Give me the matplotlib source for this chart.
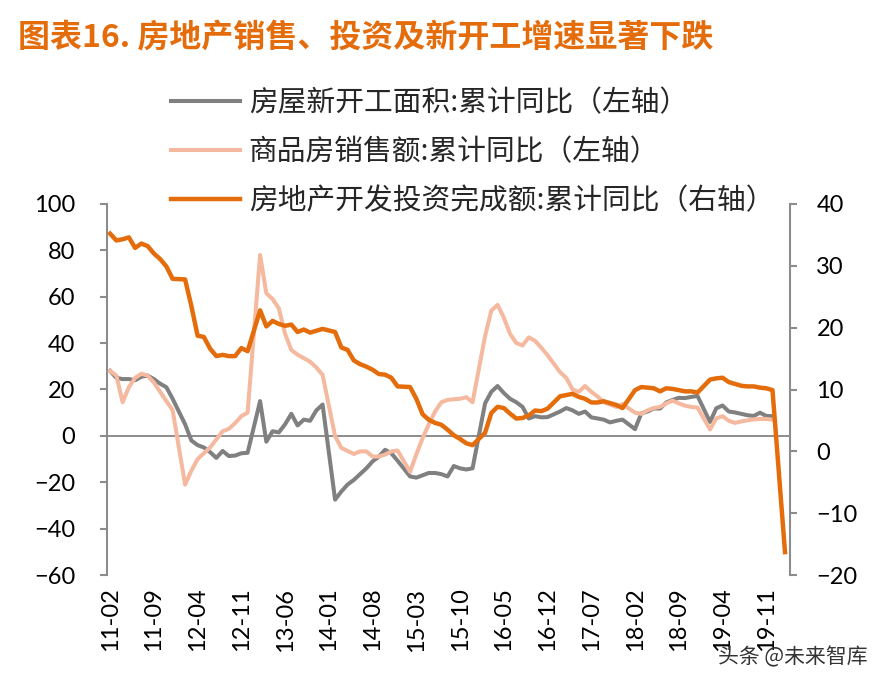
import numpy as np
import pandas as pd
import matplotlib
matplotlib.use("Agg")
import matplotlib.pyplot as plt

plt.rcParams["font.family"] = ["Lato", "Noto Sans CJK SC", "DejaVu Sans"]

# monthly axis, January is folded into the Jan-Feb print so it has no value
MONTHS = pd.period_range("2011-02", "2020-02", freq="M")
OBS = [m for m in MONTHS if m.month != 1]
TICK_MONTHS = MONTHS[::7]

LABELS = [
    "房屋新开工面积:累计同比（左轴）",
    "商品房销售额:累计同比（左轴）",
    "房地产开发投资完成额:累计同比（右轴）",
]

# 房屋新开工面积 累计同比, 2011-02 .. 2019-12 (left axis)
STARTS = [
    28, 25, 24.5, 24.5, 24, 25.5, 26, 24.5, 22.5, 21, 16,
    5, -2, -4, -5, -7, -9.5, -6.5, -8.7, -8.5, -7.5, -7.3,
    15, -2.5, 2, 1.5, 5, 9.5, 4.5, 7, 6.5, 11, 13.5,
    -27.5, -24, -21, -19, -16.5, -14, -11, -9, -6, -7.5, -10.7,
    -17.5, -18, -17, -16, -16, -16.5, -17.5, -13, -14, -14.5, -14,
    14, 19, 21.5, 18.5, 16, 14.5, 12.5, 7.5, 8.5, 8, 8.1,
    10.5, 12, 11, 9.5, 10.5, 8, 7.5, 7, 5.8, 6.5, 7,
    2.9, 9.7, 10.5, 11.8, 11.8, 14.4, 15.5, 16.4, 16.3, 16.8, 17.2,
    6, 11.9, 13.1, 10.5, 10.1, 9.5, 8.9, 8.6, 10, 8.6, 8.5,
]

# 商品房销售额 累计同比, 2011-02 .. 2019-12 (left axis)
SALES = [
    28, 26, 14.5, 21, 25, 26.8, 26, 23, 19, 15, 11.1,
    -21, -15, -10, -7.5, -5, -1.5, 2, 3, 5.5, 8.5, 10,
    78, 61.5, 59, 55, 44, 37, 35, 33.5, 32, 29.5, 26.3,
    -0.1, -5.2, -6.5, -7.8, -6.7, -6.7, -8.9, -8.9, -8.1, -6.7, -6.3,
    -15.5, -8, -1, 5, 10.5, 14.5, 15.5, 15.8, 16, 16.7, 14.5,
    43, 54, 56.5, 51, 44, 40, 39, 42.5, 41, 38, 34.8,
    27.5, 25, 20, 19, 21.5, 19, 17, 14.5, 13.5, 12.5, 13.7,
    10, 9.5, 11, 12, 12.5, 14, 15.2, 14, 13, 12.5, 12.2,
    2.8, 7.5, 8.5, 6.5, 5.6, 6.2, 6.7, 7.1, 7.3, 7.3, 7.0,
]

# 房地产开发投资完成额 累计同比, 2011-02 .. 2020-02 (right axis)
INVEST = [
    35.2, 34.1, 34.3, 34.6, 32.9, 33.6, 33.2, 32.0, 31.1, 29.9, 27.9,
    27.8, 23.5, 18.7, 18.5, 16.6, 15.4, 15.6, 15.4, 15.4, 16.7, 16.2,
    22.8, 20.2, 21.1, 20.6, 20.3, 20.5, 19.3, 19.7, 19.2, 19.5, 19.8,
    19.3, 16.8, 16.4, 14.7, 14.1, 13.7, 13.2, 12.5, 12.4, 11.9, 10.5,
    10.4, 8.5, 6.0, 5.1, 4.6, 4.3, 3.5, 2.6, 2.0, 1.3, 1.0,
    3.0, 6.2, 7.2, 7.0, 6.1, 5.3, 5.4, 5.8, 6.6, 6.5, 6.9,
    8.9, 9.1, 9.3, 8.8, 8.5, 7.9, 7.9, 8.1, 7.8, 7.5, 7.0,
    9.9, 10.4, 10.3, 10.2, 9.7, 10.2, 10.1, 9.9, 9.7, 9.7, 9.5,
    11.6, 11.8, 11.9, 11.2, 10.9, 10.6, 10.5, 10.5, 10.3, 10.2, 9.9,
    -16.3,
]

GREY = "#808080"
PINK = "#F4B99E"
ORANGE = "#E46C0A"
AXIS_GREY = "#8C8C8C"


def main():
    pos = {m: i for i, m in enumerate(MONTHS)}
    x_obs = np.array([pos[m] for m in OBS])

    fig = plt.figure(figsize=(8.86, 6.86), dpi=100)
    ax = fig.add_axes([107 / 886, 1 - 575 / 686, 683 / 886, 371 / 686])
    ax2 = ax.twinx()

    ax.axhline(0, color=AXIS_GREY, lw=1.4, zorder=1)
    l1, = ax.plot(x_obs[:len(STARTS)], STARTS, color=GREY, lw=2.9, zorder=2)
    l2, = ax.plot(x_obs[:len(SALES)], SALES, color=PINK, lw=2.9, zorder=3)
    l3, = ax2.plot(x_obs, INVEST, color=ORANGE, lw=3.2)

    ax.set_xlim(-0.5, 108.8)
    ax.set_ylim(-60, 100)
    ax.set_yticks(range(-60, 101, 20))
    ax2.set_ylim(-20, 40)
    ax2.set_yticks(range(-20, 41, 10))

    ax.set_xticks([pos[m] for m in TICK_MONTHS])
    ax.set_xticklabels([m.strftime("%y-%m") for m in TICK_MONTHS], rotation=90)

    for s in ["top", "bottom", "right"]:
        ax.spines[s].set_visible(False)
    for s in ["top", "bottom", "left"]:
        ax2.spines[s].set_visible(False)
    ax.spines["left"].set_color(AXIS_GREY)
    ax.spines["left"].set_linewidth(1.5)
    ax2.spines["right"].set_color(AXIS_GREY)
    ax2.spines["right"].set_linewidth(1.5)

    ax.tick_params(axis="x", length=0, pad=9, labelsize=17)
    ax.tick_params(axis="y", length=5, width=1.5, color=AXIS_GREY, labelsize=17, pad=18)
    ax2.tick_params(axis="y", length=5, width=1.5, color=AXIS_GREY, labelsize=17, pad=14)

    leg = fig.legend(
        [l1, l2, l3], LABELS,
        loc="upper left", bbox_to_anchor=(171 / 886, 1 - 88 / 686),
        frameon=False, handlelength=2.4, handletextpad=0.3,
        labelspacing=0.66, borderpad=0, borderaxespad=0,
        prop={"family": ["Noto Sans CJK SC", "DejaVu Sans"], "size": 20.7, "weight": "light"},
    )
    for t in leg.get_texts():
        t.set_color("#262626")

    fig.text(18 / 886, 1 - 38 / 686, "图表16. 房地产销售、投资及新开工增速显著下跌",
             color=ORANGE, fontsize=23, fontweight="bold", va="center",
             family=["Noto Sans CJK SC", "DejaVu Sans"])
    fig.text(868 / 886, 1 - 657 / 686, "头条 @未来智库", ha="right", va="center",
             fontsize=15, color="#333333", family=["Noto Sans CJK SC", "DejaVu Sans"])

    fig.savefig("out.png", dpi=100)


if __name__ == "__main__":
    main()
